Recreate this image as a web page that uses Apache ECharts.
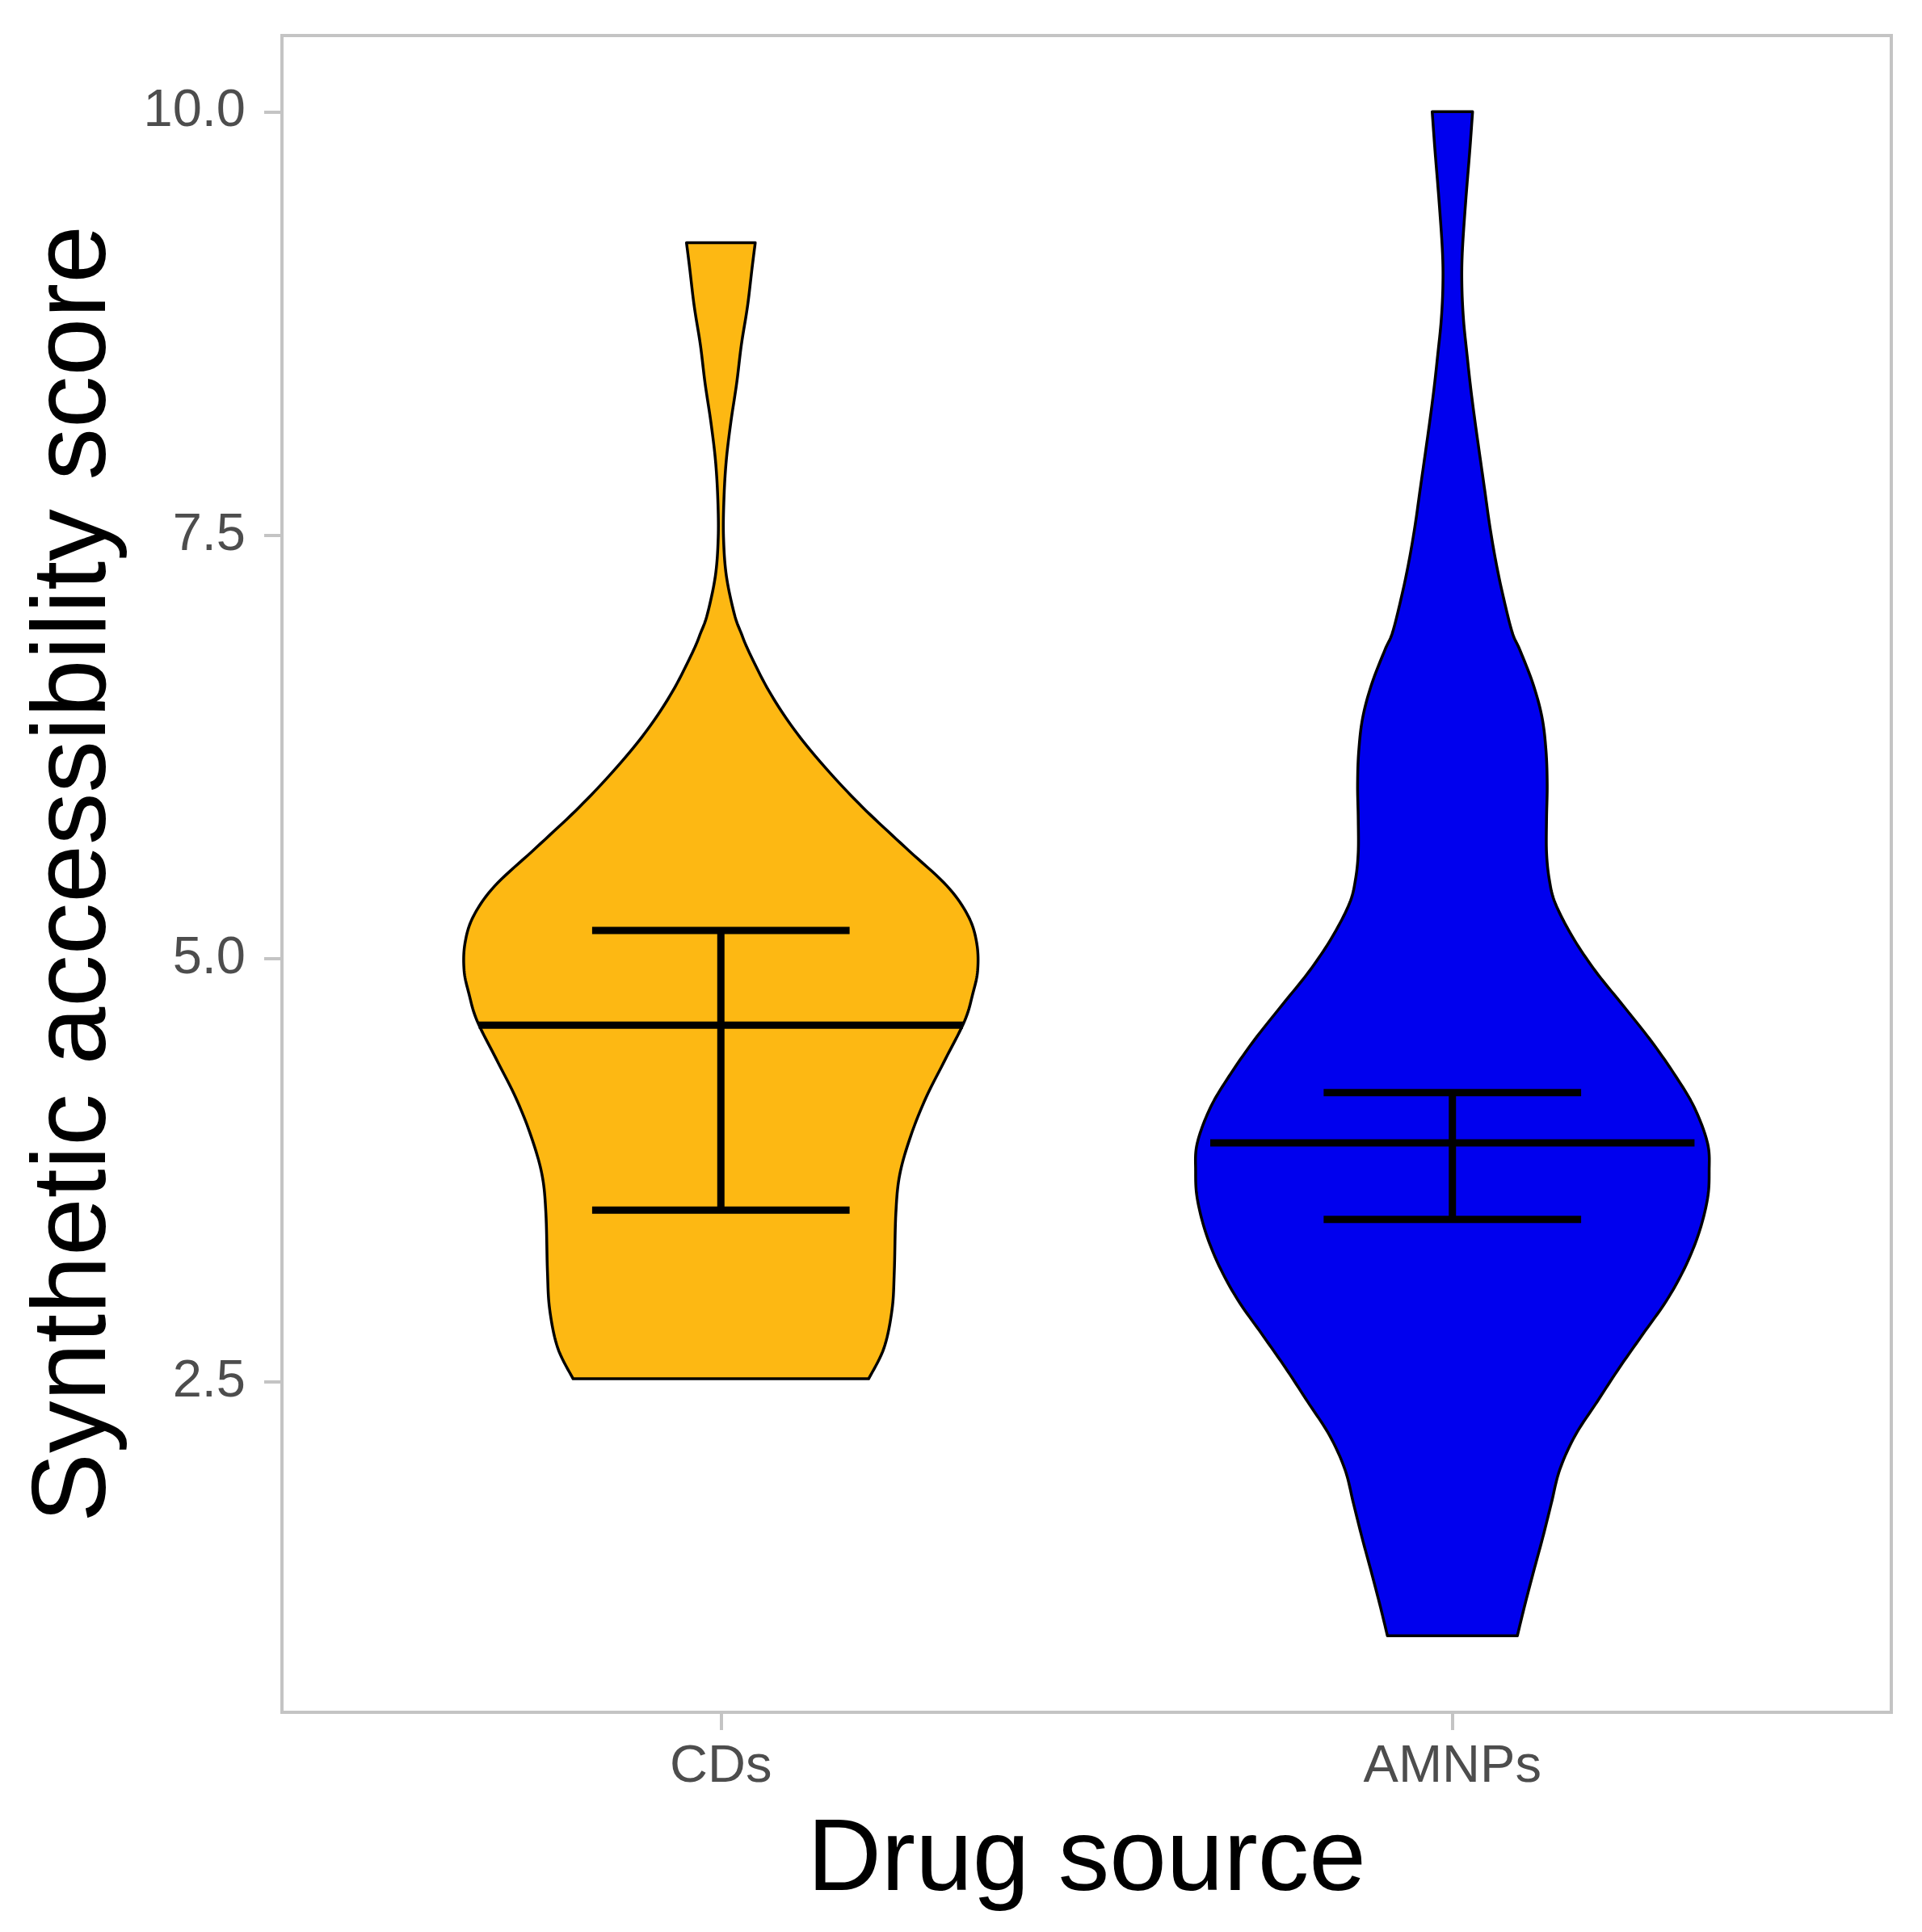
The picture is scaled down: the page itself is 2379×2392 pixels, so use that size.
<!DOCTYPE html>
<html>
<head>
<meta charset="utf-8">
<script src="https://cdn.jsdelivr.net/npm/echarts@6/dist/echarts.min.js"></script>
<style>
html,body{margin:0;padding:0;background:#ffffff;}
#chart{width:2379px;height:2392px;}
</style>
</head>
<body>
<div id="chart"></div>
<script>
// ---- Data ----
const categories = ['CDs', 'AMNPs'];
const yTickValues = [2.5, 5, 7.5, 10];

// CDs violin profile: score values (top to bottom) and half-width (x units)
const cdY = [9.227, 9.079, 8.851, 8.624, 8.397, 8.169, 7.942, 7.715, 7.488, 7.260, 7.033, 6.919, 6.806, 6.578, 6.351, 6.124, 5.896, 5.657, 5.429, 5.248, 5.088, 4.929, 4.793, 4.634, 4.406, 4.179, 3.951, 3.724, 3.497, 3.156, 2.928, 2.701, 2.519];
const cdHalfWidth = [0.047, 0.0427, 0.0364, 0.028, 0.0216, 0.0137, 0.0074, 0.0042, 0.0036, 0.0075, 0.0185, 0.028, 0.039, 0.066, 0.1005, 0.1435, 0.1932, 0.2520, 0.3091, 0.3385, 0.3499, 0.351, 0.3444, 0.3334, 0.3069, 0.2804, 0.2594, 0.2445, 0.2392, 0.2371, 0.234, 0.223, 0.202];

// AMNPs violin profile
const amY = [10.0, 9.767, 9.466, 9.167, 8.966, 8.766, 8.566, 8.366, 8.166, 7.966, 7.766, 7.566, 7.366, 7.166, 6.930, 6.825, 6.625, 6.425, 6.225, 6.025, 5.825, 5.626, 5.466, 5.326, 5.126, 4.926, 4.726, 4.524, 4.324, 4.124, 3.910, 3.744, 3.584, 3.384, 3.184, 2.984, 2.784, 2.584, 2.384, 2.184, 1.983, 1.783, 1.583, 1.383, 1.183, 1.002];
const amHalfWidth = [0.0276, 0.0237, 0.0181, 0.0135, 0.013, 0.0153, 0.02, 0.0251, 0.0311, 0.0376, 0.0442, 0.0507, 0.0585, 0.0680, 0.0815, 0.0920, 0.1100, 0.1225, 0.1280, 0.1296, 0.1287, 0.1287, 0.1325, 0.1407, 0.1645, 0.1956, 0.2328, 0.2699, 0.3025, 0.3304, 0.3488, 0.351, 0.3488, 0.3373, 0.3187, 0.2932, 0.2606, 0.2282, 0.1979, 0.1678, 0.1468, 0.1352, 0.1236, 0.1111, 0.099, 0.0888];

// Summary (centre line and error bar ends)
const centerValues = [4.607, 3.912];
const lowerValues = [3.515, 3.460];
const upperValues = [5.166, 4.209];

// ---- Chart ----
const FONT = 'Liberation Sans, Arial, Helvetica, sans-serif';
const violinColors = ['#FDB813', '#0000EE'];
const CENTER_HALF = 0.331;
const CAP_HALF = 0.176;

// Catmull-Rom rendering of an open outline through the given pixel points
function smoothOpen(pts, steps) {
  const out = [];
  const n = pts.length;
  for (let i = 0; i < n - 1; i++) {
    const p0 = pts[Math.max(i - 1, 0)], p1 = pts[i], p2 = pts[i + 1], p3 = pts[Math.min(i + 2, n - 1)];
    for (let s = 0; s < steps; s++) {
      const t = s / steps, t2 = t * t, t3 = t2 * t;
      const f = k => 0.5 * (2 * p1[k] + (-p0[k] + p2[k]) * t + (2 * p0[k] - 5 * p1[k] + 4 * p2[k] - p3[k]) * t2 + (-p0[k] + 3 * p1[k] - 3 * p2[k] + p3[k]) * t3);
      out.push([f(0), f(1)]);
    }
  }
  out.push(pts[n - 1]);
  return out;
}

function violinRenderer(ys, hw, color) {
  return function (params, api) {
    const xc = api.value(0);
    const left = [], right = [];
    for (let i = 0; i < ys.length; i++) left.push(api.coord([xc - hw[i], ys[i]]));
    for (let i = ys.length - 1; i >= 0; i--) right.push(api.coord([xc + hw[i], ys[i]]));
    const pts = smoothOpen(left, 10).concat(smoothOpen(right, 10));
    return {
      type: 'polygon',
      shape: { points: pts },
      style: { fill: color, stroke: '#000000', lineWidth: 3.5, lineJoin: 'round' }
    };
  };
}

function errorRenderer(params, api) {
  const x = api.value(0), m = api.value(1), lo = api.value(2), hi = api.value(3);
  const st = { stroke: '#000000', lineWidth: 9, lineCap: 'butt' };
  const seg = (a, b) => ({ type: 'line', shape: { x1: a[0], y1: a[1], x2: b[0], y2: b[1] }, style: st });
  return {
    type: 'group',
    children: [
      seg(api.coord([x, lo]), api.coord([x, hi])),
      seg(api.coord([x - CENTER_HALF, m]), api.coord([x + CENTER_HALF, m])),
      seg(api.coord([x - CAP_HALF, hi]), api.coord([x + CAP_HALF, hi])),
      seg(api.coord([x - CAP_HALF, lo]), api.coord([x + CAP_HALF, lo]))
    ]
  };
}

const chart = echarts.init(document.getElementById('chart'), null, { renderer: 'canvas' });
const axisGrey = '#c4c4c4';

chart.setOption({
  animation: false,
  backgroundColor: '#ffffff',
  grid: {
    left: 349, right: 38, top: 44, bottom: 272,
    show: true, borderColor: axisGrey, borderWidth: 4, backgroundColor: 'transparent'
  },
  xAxis: {
    type: 'value', min: 0.4, max: 2.6,
    splitLine: { show: false },
    axisLine: { show: false },
    axisTick: { show: true, customValues: [1, 2], length: 22, lineStyle: { color: axisGrey, width: 4 } },
    axisLabel: {
      customValues: [1, 2],
      formatter: v => categories[Math.round(v) - 1],
      margin: 36, fontSize: 65, color: '#4d4d4d', fontFamily: FONT
    },
    name: 'Drug source', nameLocation: 'middle', nameGap: 121,
    nameTextStyle: { fontSize: 127, color: '#000000', fontFamily: FONT }
  },
  yAxis: {
    type: 'value', min: 0.55, max: 10.45,
    splitLine: { show: false },
    axisLine: { show: false },
    axisTick: { show: true, customValues: yTickValues, length: 22, lineStyle: { color: axisGrey, width: 4 } },
    axisLabel: {
      customValues: yTickValues,
      formatter: v => Number(v).toFixed(1),
      margin: 45, fontSize: 65, color: '#4d4d4d', fontFamily: FONT
    },
    name: 'Synthetic accessibility score', nameLocation: 'middle', nameGap: 190, nameRotate: 90,
    nameTextStyle: { fontSize: 129, color: '#000000', fontFamily: FONT }
  },
  series: [
    { type: 'custom', name: categories[0], renderItem: violinRenderer(cdY, cdHalfWidth, violinColors[0]), data: [[1]], encode: { x: 0 }, z: 2 },
    { type: 'custom', name: categories[1], renderItem: violinRenderer(amY, amHalfWidth, violinColors[1]), data: [[2]], encode: { x: 0 }, z: 2 },
    {
      type: 'custom', name: 'summary', renderItem: errorRenderer, z: 3,
      encode: { x: 0, y: [1, 2, 3] },
      data: categories.map((c, i) => [i + 1, centerValues[i], lowerValues[i], upperValues[i]])
    }
  ]
});
</script>
</body>
</html>
